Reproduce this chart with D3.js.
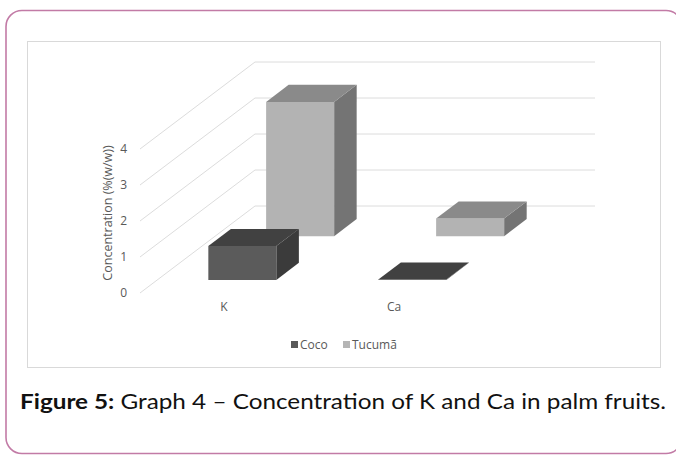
<!DOCTYPE html>
<html>
<head>
<meta charset="utf-8">
<script src="https://cdn.jsdelivr.net/npm/d3@7"></script>
<style>
  html, body { margin: 0; padding: 0; background: #fff; }
  svg { display: block; }
</style>
</head>
<body>
<svg id="fig" width="676" height="455"></svg>
<script>
// Element concentrations (% w/w) for the two palm fruits
const categories = ["K", "Ca"];
const seriesNames = ["Coco", "Tucumã"];
const cocoValues = [0.94, 0.01];
const tucumaValues = [3.73, 0.49];
const yTicks = [0, 1, 2, 3, 4];

const seriesValues = { "Coco": cocoValues, "Tucumã": tucumaValues };

// Face shading per series: front, top, right side
const shades = {
  "Coco":   { front: "#5b5b5b", top: "#414141", side: "#3b3b3b", key: "#595959" },
  "Tucumã": { front: "#b3b3b3", top: "#8a8a8a", side: "#747474", key: "#b5b5b5" }
};

const FONT = "Open Sans, sans-serif";
const svg = d3.select("#fig");

// Rounded figure card
svg.append("rect")
  .attr("x", 6).attr("y", 10.5)
  .attr("width", 676).attr("height", 443)
  .attr("rx", 16).attr("ry", 16)
  .attr("fill", "#fff")
  .attr("stroke", "#c27ba6").attr("stroke-width", 1.6);

// Chart frame
svg.append("rect")
  .attr("x", 27.5).attr("y", 41.5)
  .attr("width", 633).attr("height", 326)
  .attr("fill", "#fff")
  .attr("stroke", "#d9d9d9").attr("stroke-width", 1);

// Front-plane scales
const x = d3.scaleBand().domain(categories).range([140, 480])
  .paddingInner(0.6).paddingOuter(0.3);
const y = d3.scaleLinear().domain([0, 4]).range([293, 149]);
// Depth (0 = front, 1 = back wall) for each series row
const depth = d3.scaleBand().domain(seriesNames).range([0, 1])
  .paddingInner(0.61).paddingOuter(0.3);

// Oblique receding direction of the depth axis
const DX = 115, DY = -87;
const proj = (xf, v, t) => [xf + DX * t, y(v) + DY * t];
const poly = pts => "M" + pts.map(p => p.join(",")).join("L") + "Z";

// Side-wall diagonals and back-wall gridlines
const grid = svg.append("g").attr("fill", "none")
  .attr("stroke", "#dcdcdc").attr("stroke-width", 1);
yTicks.forEach(v => {
  const a = proj(140, v, 0), b = proj(140, v, 1), c = proj(480, v, 1);
  grid.append("path").attr("d", `M${a}L${b}L${c}`);
});

// Value axis labels
const yAxis = svg.append("g").attr("transform", "translate(127,0)")
  .call(d3.axisLeft(y).tickValues(yTicks).tickSize(0).tickPadding(0).tickFormat(d3.format("d")));
yAxis.select(".domain").remove();
yAxis.selectAll("text")
  .attr("fill", "#595959").attr("font-family", FONT).attr("font-size", 12);

// Axis title
svg.append("text")
  .attr("transform", "translate(107,213) rotate(-90)")
  .attr("text-anchor", "middle")
  .attr("dominant-baseline", "central")
  .attr("fill", "#595959").attr("font-family", FONT).attr("font-size", 12.5)
  .text("Concentration (%(w/w))");

// Category labels
const xAxis = svg.append("g").attr("transform", "translate(-1,302)")
  .call(d3.axisBottom(x).tickSize(0).tickPadding(0));
xAxis.select(".domain").remove();
xAxis.selectAll("text")
  .attr("fill", "#595959").attr("font-family", FONT).attr("font-size", 12);

// 3-D columns, back row first so front row overlaps it
const bars = svg.append("g");
seriesNames.slice().reverse().forEach(s => {
  const t0 = depth(s), t1 = depth(s) + depth.bandwidth();
  const sh = shades[s];
  categories.forEach((c, i) => {
    const v = seriesValues[s][i];
    const x0 = x(c), x1 = x(c) + x.bandwidth();
    const g = bars.append("g");
    g.append("path").attr("fill", sh.side)
      .attr("d", poly([proj(x1, 0, t0), proj(x1, 0, t1), proj(x1, v, t1), proj(x1, v, t0)]));
    g.append("path").attr("fill", sh.front)
      .attr("d", poly([proj(x0, 0, t0), proj(x1, 0, t0), proj(x1, v, t0), proj(x0, v, t0)]));
    g.append("path").attr("fill", sh.top)
      .attr("d", poly([proj(x0, v, t0), proj(x1, v, t0), proj(x1, v, t1), proj(x0, v, t1)]));
  });
});

// Legend
const legend = svg.append("g").attr("font-family", FONT).attr("font-size", 12);
const legendX = [291, 343];
seriesNames.forEach((s, i) => {
  legend.append("rect").attr("x", legendX[i]).attr("y", 341)
    .attr("width", 7).attr("height", 7).attr("fill", shades[s].key);
  legend.append("text").attr("x", legendX[i] + 9).attr("y", 349)
    .attr("fill", "#595959").text(s);
});

// Figure caption
const cap = svg.append("text").attr("x", 20).attr("y", 409)
  .attr("font-family", "Lato, sans-serif").attr("font-size", 21).attr("fill", "#111");
cap.append("tspan").attr("font-weight", "bold").text("Figure 5:");
cap.append("tspan").text(" Graph 4 – Concentration of K and Ca in palm fruits.");
cap.attr("textLength", 646).attr("lengthAdjust", "spacingAndGlyphs");
</script>
</body>
</html>
